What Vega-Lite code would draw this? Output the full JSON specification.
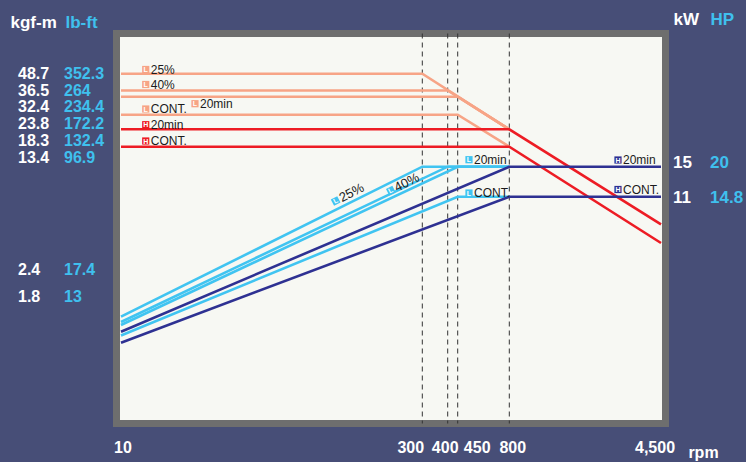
{
  "$schema": "https://vega.github.io/schema/vega-lite/v6.json",
  "width": 549,
  "height": 390,
  "autosize": {"type": "none"},
  "padding": {"left": 116.5, "top": 33.5, "right": 80.5, "bottom": 38.5},
  "background": "#474e77",
  "config": {
    "font": "Liberation Sans",
    "view": {"fill": "#f7f8f3", "stroke": "#6e6e6e", "strokeWidth": 7}
  },
  "datasets": {
    "curves": [
      {"name": "L25T", "kind": "L torque", "mode": "L", "rpm": 10, "h": 349.8},
      {"name": "L25T", "kind": "L torque", "mode": "L", "rpm": 300, "h": 349.8},
      {"name": "L25T", "kind": "L torque", "mode": "L", "rpm": 800, "h": 294.2},
      {"name": "L40T", "kind": "L torque", "mode": "L", "rpm": 10, "h": 333},
      {"name": "L40T", "kind": "L torque", "mode": "L", "rpm": 400, "h": 333},
      {"name": "L40T", "kind": "L torque", "mode": "L", "rpm": 800, "h": 294.2},
      {"name": "L20T", "kind": "L torque", "mode": "L", "rpm": 10, "h": 326.8},
      {"name": "L20T", "kind": "L torque", "mode": "L", "rpm": 450, "h": 326.8},
      {"name": "L20T", "kind": "L torque", "mode": "L", "rpm": 800, "h": 294.2},
      {"name": "LCT", "kind": "L torque", "mode": "L", "rpm": 10, "h": 308.8},
      {"name": "LCT", "kind": "L torque", "mode": "L", "rpm": 450, "h": 308.8},
      {"name": "LCT", "kind": "L torque", "mode": "L", "rpm": 800, "h": 276.8},
      {"name": "L25P", "kind": "L power", "mode": "L", "rpm": 10, "h": 106.8},
      {"name": "L25P", "kind": "L power", "mode": "L", "rpm": 300, "h": 256.8},
      {"name": "L25P", "kind": "L power", "mode": "L", "rpm": 800, "h": 256.8},
      {"name": "L40P", "kind": "L power", "mode": "L", "rpm": 10, "h": 101.5},
      {"name": "L40P", "kind": "L power", "mode": "L", "rpm": 400, "h": 256.8},
      {"name": "L40P", "kind": "L power", "mode": "L", "rpm": 800, "h": 256.8},
      {"name": "L20P", "kind": "L power", "mode": "L", "rpm": 10, "h": 98.5},
      {"name": "L20P", "kind": "L power", "mode": "L", "rpm": 450, "h": 256.8},
      {"name": "L20P", "kind": "L power", "mode": "L", "rpm": 800, "h": 256.8},
      {"name": "LCP", "kind": "L power", "mode": "L", "rpm": 10, "h": 88},
      {"name": "LCP", "kind": "L power", "mode": "L", "rpm": 450, "h": 226.8},
      {"name": "LCP", "kind": "L power", "mode": "L", "rpm": 800, "h": 226.8},
      {"name": "H20T", "kind": "H torque", "mode": "H", "rpm": 10, "h": 294.2},
      {"name": "H20T", "kind": "H torque", "mode": "H", "rpm": 800, "h": 294.2},
      {"name": "H20T", "kind": "H torque", "mode": "H", "rpm": 4500, "h": 199.2},
      {"name": "HCT", "kind": "H torque", "mode": "H", "rpm": 10, "h": 276.8},
      {"name": "HCT", "kind": "H torque", "mode": "H", "rpm": 800, "h": 276.8},
      {"name": "HCT", "kind": "H torque", "mode": "H", "rpm": 4500, "h": 180.5},
      {"name": "H20P", "kind": "H power", "mode": "H", "rpm": 10, "h": 91.8},
      {"name": "H20P", "kind": "H power", "mode": "H", "rpm": 800, "h": 256.8},
      {"name": "H20P", "kind": "H power", "mode": "H", "rpm": 4500, "h": 256.8},
      {"name": "HCP", "kind": "H power", "mode": "H", "rpm": 10, "h": 80.8},
      {"name": "HCP", "kind": "H power", "mode": "H", "rpm": 800, "h": 226.8},
      {"name": "HCP", "kind": "H power", "mode": "H", "rpm": 4500, "h": 226.8}
    ],
    "steps": [{"rpm": 300}, {"rpm": 400}, {"rpm": 450}, {"rpm": 800}],
    "tags": [
      {"kind": "L torque", "mode": "L", "tag": "25%", "rpm": 33.8, "h": 354},
      {"kind": "L torque", "mode": "L", "tag": "40%", "rpm": 33.8, "h": 339},
      {"kind": "L torque", "mode": "L", "tag": "CONT.", "rpm": 33.8, "h": 314.5},
      {"kind": "L torque", "mode": "L", "tag": "20min", "rpm": 81.2, "h": 319.8},
      {"kind": "H torque", "mode": "H", "tag": "20min", "rpm": 33.8, "h": 298.8},
      {"kind": "H torque", "mode": "H", "tag": "CONT.", "rpm": 33.8, "h": 282.5},
      {"kind": "L power", "mode": "L", "tag": "20min", "rpm": 526.6, "h": 263.8},
      {"kind": "L power", "mode": "L", "tag": "CONT.", "rpm": 526.6, "h": 230.5},
      {"kind": "H power", "mode": "H", "tag": "20min", "rpm": 3451, "h": 263.5},
      {"kind": "H power", "mode": "H", "tag": "CONT.", "rpm": 3451, "h": 234}
    ],
    "slopeTags": [
      {"kind": "L power", "mode": "L", "tag": "25%", "rpm": 216.6, "h": 222.5},
      {"kind": "L power", "mode": "L", "tag": "40%", "rpm": 269.7, "h": 232.8}
    ],
    "torque": [
      {"unit": "kgf-m", "val": "48.7", "h": 349.5},
      {"unit": "lb-ft", "val": "352.3", "h": 349.5},
      {"unit": "kgf-m", "val": "36.5", "h": 332.5},
      {"unit": "lb-ft", "val": "264", "h": 332.5},
      {"unit": "kgf-m", "val": "32.4", "h": 316.3},
      {"unit": "lb-ft", "val": "234.4", "h": 316.3},
      {"unit": "kgf-m", "val": "23.8", "h": 300},
      {"unit": "lb-ft", "val": "172.2", "h": 300},
      {"unit": "kgf-m", "val": "18.3", "h": 283},
      {"unit": "lb-ft", "val": "132.4", "h": 283},
      {"unit": "kgf-m", "val": "13.4", "h": 265.5},
      {"unit": "lb-ft", "val": "96.9", "h": 265.5},
      {"unit": "kgf-m", "val": "2.4", "h": 153.5},
      {"unit": "lb-ft", "val": "17.4", "h": 153.5},
      {"unit": "kgf-m", "val": "1.8", "h": 126.8},
      {"unit": "lb-ft", "val": "13", "h": 126.8}
    ],
    "power": [
      {"unit": "kW", "val": "15", "h": 260.2},
      {"unit": "HP", "val": "20", "h": 260.2},
      {"unit": "kW", "val": "11", "h": 226},
      {"unit": "HP", "val": "14.8", "h": 226}
    ]
  },
  "resolve": {
    "scale": {"x": "independent", "color": "independent"},
    "axis": {"x": "independent"}
  },
  "layer": [
    {
      "encoding": {
        "y": {"field": "h", "type": "quantitative", "scale": {"domain": [0, 390], "nice": false, "zero": false}, "axis": null}
      },
      "layer": [
        {
          "data": {"name": "steps"},
          "mark": {"type": "rule", "color": "#333333", "strokeWidth": 1, "strokeDash": [5, 4]},
          "encoding": {
            "x": {"field": "rpm", "type": "quantitative"},
            "y": null
          }
        },
        {
          "data": {"name": "curves"},
          "transform": [{"filter": "datum.mode == 'L'"}],
          "mark": {"type": "line", "strokeWidth": 2.6},
          "encoding": {
            "x": {
              "field": "rpm",
              "type": "quantitative",
              "scale": {"domain": [10, 300, 400, 450, 800, 4500], "range": [4.5, 305.8, 331.2, 341.2, 392.8, 544.5], "nice": false, "zero": false},
              "axis": {
                "values": [10, 300, 400, 450, 800, 4500],
                "format": ",d",
                "domain": false,
                "ticks": false,
                "tickSize": 0,
                "grid": false,
                "labelFlush": false,
                "labelAlign": "center",
                "labelBaseline": "top",
                "labelPadding": 16,
                "labelColor": "white",
                "labelFontSize": 16,
                "labelFontWeight": "bold",
                "labelOffset": {
                  "condition": [
                    {"test": "datum.value == 10", "value": 1.5},
                    {"test": "datum.value == 300", "value": -12},
                    {"test": "datum.value == 400", "value": -3},
                    {"test": "datum.value == 450", "value": 19},
                    {"test": "datum.value == 800", "value": 3}
                  ],
                  "value": -6.5
                },
                "title": "rpm",
                "titleColor": "white",
                "titleFontSize": 16,
                "titleFontWeight": "bold",
                "titleAlign": "center",
                "titleBaseline": "alphabetic",
                "titleX": 586.5,
                "titleY": 33.5
              }
            },
            "color": {
              "field": "kind",
              "type": "nominal",
              "scale": {"domain": ["L torque", "H torque", "L power", "H power"], "range": ["#f7a486", "#ed1c24", "#40c4f1", "#2e3192"]},
              "legend": null
            },
            "detail": {"field": "name"}
          }
        },
        {
          "data": {"name": "curves"},
          "transform": [{"filter": "datum.mode == 'H'"}],
          "mark": {"type": "line", "strokeWidth": 2.6},
          "encoding": {
            "x": {"field": "rpm", "type": "quantitative"},
            "color": {"field": "kind", "type": "nominal"},
            "detail": {"field": "name"}
          }
        },
        {
          "data": {"name": "tags"},
          "mark": {"type": "point", "shape": "square", "filled": true, "size": 52, "opacity": 1},
          "encoding": {
            "x": {"field": "rpm", "type": "quantitative"},
            "color": {"field": "kind", "type": "nominal"}
          }
        },
        {
          "data": {"name": "tags"},
          "mark": {"type": "text", "color": "white", "fontSize": 7, "fontWeight": "bold", "align": "center", "baseline": "middle", "dy": 0.5},
          "encoding": {
            "x": {"field": "rpm", "type": "quantitative"},
            "text": {"field": "mode"}
          }
        },
        {
          "data": {"name": "tags"},
          "mark": {"type": "text", "color": "#1b1b1b", "fontSize": 12, "align": "left", "baseline": "middle", "dx": 5},
          "encoding": {
            "x": {"field": "rpm", "type": "quantitative"},
            "text": {"field": "tag"}
          }
        },
        {
          "data": {"name": "slopeTags"},
          "mark": {"type": "point", "shape": "square", "filled": true, "size": 52, "opacity": 1, "angle": 333},
          "encoding": {
            "x": {"field": "rpm", "type": "quantitative"},
            "color": {"field": "kind", "type": "nominal"}
          }
        },
        {
          "data": {"name": "slopeTags"},
          "mark": {"type": "text", "color": "white", "fontSize": 7, "fontWeight": "bold", "align": "center", "baseline": "middle", "angle": 333},
          "encoding": {
            "x": {"field": "rpm", "type": "quantitative"},
            "text": {"field": "mode"}
          }
        },
        {
          "data": {"name": "slopeTags"},
          "mark": {"type": "text", "color": "#1b1b1b", "fontSize": 13, "align": "left", "baseline": "middle", "dx": 5, "angle": 333},
          "encoding": {
            "x": {"field": "rpm", "type": "quantitative"},
            "text": {"field": "tag"}
          }
        }
      ]
    },
    {
      "data": {"name": "torque"},
      "mark": {"type": "text", "align": "left", "baseline": "middle", "fontSize": 16, "fontWeight": "bold"},
      "encoding": {
        "x": {
          "field": "unit",
          "type": "nominal",
          "sort": ["kgf-m", "lb-ft"],
          "scale": {"type": "point", "domain": ["kgf-m", "lb-ft"], "range": [-98.5, -52.5], "padding": 0},
          "axis": {
            "orient": "top",
            "title": null,
            "domain": false,
            "ticks": false,
            "tickSize": 0,
            "labelAngle": 0,
            "labelAlign": "left",
            "labelBaseline": "alphabetic",
            "labelPadding": 6,
            "labelFontSize": 17,
            "labelFontWeight": "bold",
            "labelOffset": {"condition": {"test": "datum.value == 'kgf-m'", "value": -8}, "value": 1},
            "labelColor": {"condition": {"test": "datum.value == 'kgf-m'", "value": "white"}, "value": "#3fc0ee"}
          }
        },
        "y": {"field": "h", "type": "quantitative", "scale": {"domain": [0, 390], "nice": false, "zero": false}, "axis": null},
        "text": {"field": "val"},
        "color": {
          "field": "unit",
          "type": "nominal",
          "scale": {"domain": ["kgf-m", "lb-ft"], "range": ["#ffffff", "#3fc0ee"]},
          "legend": null
        }
      }
    },
    {
      "data": {"name": "power"},
      "mark": {"type": "text", "align": "left", "baseline": "middle", "fontSize": 17, "fontWeight": "bold"},
      "encoding": {
        "x": {
          "field": "unit",
          "type": "nominal",
          "sort": ["kW", "HP"],
          "scale": {"type": "point", "domain": ["kW", "HP"], "range": [556.5, 593.5], "padding": 0},
          "axis": {
            "orient": "top",
            "title": null,
            "domain": false,
            "ticks": false,
            "tickSize": 0,
            "labelAngle": 0,
            "labelAlign": "left",
            "labelBaseline": "alphabetic",
            "labelPadding": 9,
            "labelFontSize": 17,
            "labelFontWeight": "bold",
            "labelColor": {"condition": {"test": "datum.value == 'kW'", "value": "white"}, "value": "#3fc0ee"}
          }
        },
        "y": {"field": "h", "type": "quantitative", "scale": {"domain": [0, 390], "nice": false, "zero": false}, "axis": null},
        "text": {"field": "val"},
        "color": {
          "field": "unit",
          "type": "nominal",
          "scale": {"domain": ["kW", "HP"], "range": ["#ffffff", "#3fc0ee"]},
          "legend": null
        }
      }
    }
  ]
}
